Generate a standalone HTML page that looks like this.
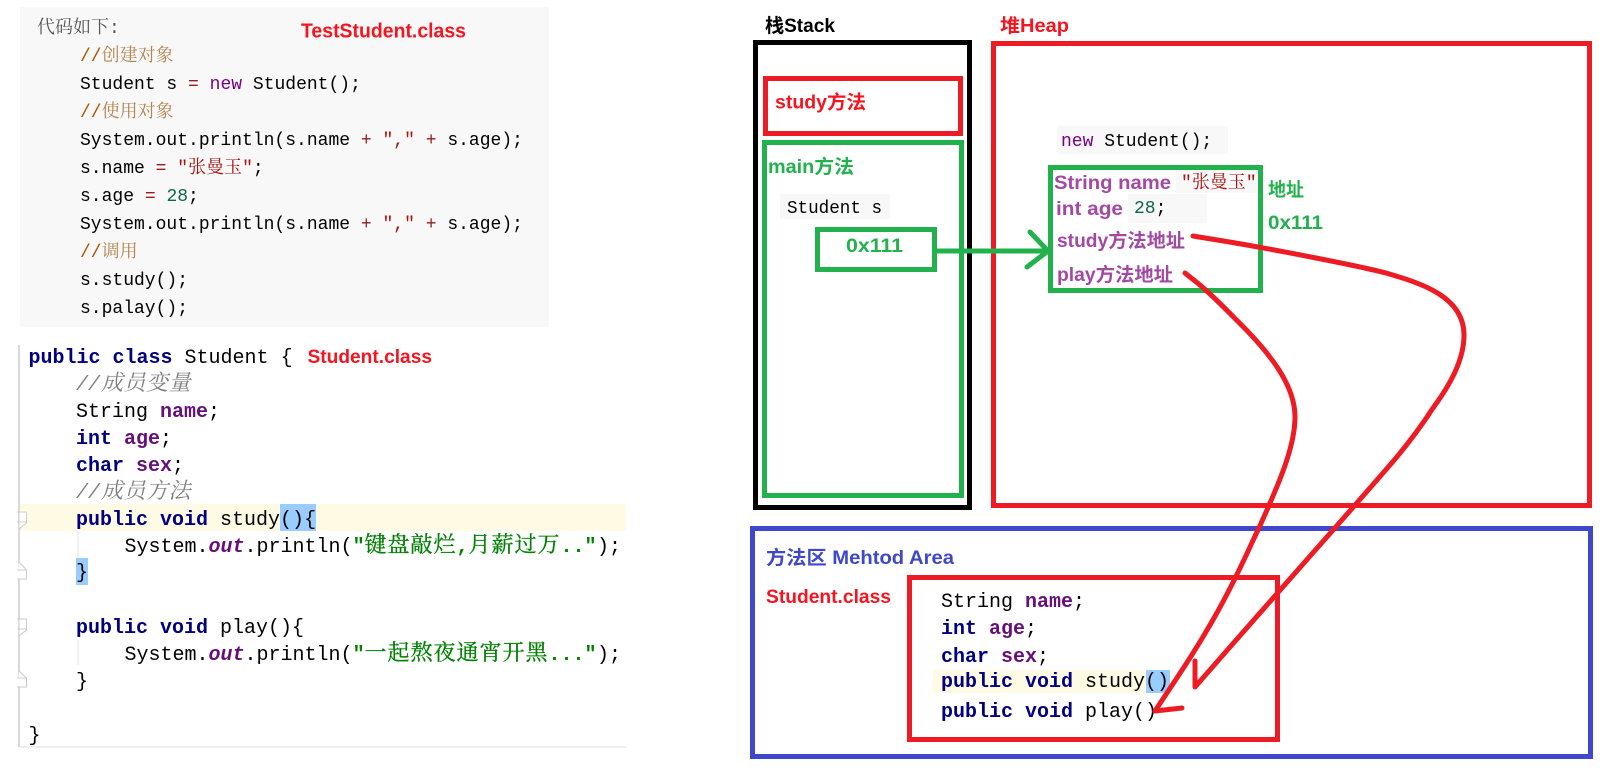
<!DOCTYPE html>
<html><head><meta charset="utf-8"><style>
html,body{margin:0;padding:0;background:#fff;width:1608px;height:774px;overflow:hidden}
svg{display:block}
text{white-space:pre}
.m{font-family:"Liberation Mono","Noto Sans CJK SC",monospace;font-size:18px;fill:#000}
.j{font-family:"Liberation Mono","Noto Sans CJK SC",monospace;font-size:20px;fill:#000}
.b{font-family:"Liberation Sans","Noto Sans CJK SC",sans-serif;font-size:19px;font-weight:bold}
.s{font-family:"Noto Serif CJK SC",serif}
.kw{fill:#000080;font-weight:bold}
.fd{fill:#660E7A;font-weight:bold}
.cm{fill:#808080;font-style:italic}
.st{fill:#008000;font-weight:bold}
.sg{font-family:"Noto Serif CJK SC",serif;font-size:22px;letter-spacing:1px;font-weight:normal;stroke:#008000;stroke-width:.3px}
.t{fill:#b5844f}
.op{fill:#981a1a}
.sr{fill:#a11}
.nw{fill:#708}
.nu{fill:#164}
.r{fill:#F5141F}.g{fill:#22B14C}.p{fill:#A349A4}.u{fill:#3F48CC}
</style></head><body>
<svg width="1608" height="774" viewBox="0 0 1608 774" xmlns="http://www.w3.org/2000/svg">
<!-- top-left code panel -->
<rect x="20" y="7" width="529" height="320" fill="#f8f8f8"/>
<text class="m" x="37" y="33" style="fill:#555"><tspan class="s" font-size="18">代码如下</tspan>:</text>
<text class="b r" x="301" y="37.5" style="font-size:20px" textLength="165" lengthAdjust="spacingAndGlyphs">TestStudent.class</text>
<text class="m" x="80" y="61" style="fill:#a50">//<tspan class="s t">创建对象</tspan></text>
<text class="m" x="80" y="89">Student s <tspan class="op">=</tspan> <tspan class="nw">new</tspan> Student();</text>
<text class="m" x="80" y="117" style="fill:#a50">//<tspan class="s t">使用对象</tspan></text>
<text class="m" x="80" y="145">System.out.println(s.name <tspan class="op">+</tspan> <tspan class="sr">","</tspan> <tspan class="op">+</tspan> s.age);</text>
<text class="m" x="80" y="173">s.name <tspan class="op">=</tspan> <tspan class="sr">"<tspan class="s">张曼玉</tspan>"</tspan>;</text>
<text class="m" x="80" y="201">s.age <tspan class="op">=</tspan> <tspan class="nu">28</tspan>;</text>
<text class="m" x="80" y="229">System.out.println(s.name <tspan class="op">+</tspan> <tspan class="sr">","</tspan> <tspan class="op">+</tspan> s.age);</text>
<text class="m" x="80" y="257" style="fill:#a50">//<tspan class="s t">调用</tspan></text>
<text class="m" x="80" y="285">s.study();</text>
<text class="m" x="80" y="313">s.palay();</text>

<!-- bottom-left code panel -->
<rect x="20" y="504" width="606" height="27" fill="#FFFAE3"/>
<rect x="280" y="504" width="36" height="27" fill="#99CCFF"/>
<rect x="76" y="558" width="12" height="27" fill="#99CCFF"/>
<path d="M19,345V747" fill="none" stroke="#ccc" stroke-width="1.5"/>
<path d="M19,747H626" fill="none" stroke="#ddd" stroke-width="1"/>
<path d="M78,531V558M78,640V665" fill="none" stroke="#e0e0e0" stroke-width="1"/>
<path d="M17,512H26.5V523L19,529V512M17,522H26.5M19,562L26.5,570V579H17M17,570H26.5M17,619H26.5V630L19,636V619M17,629H26.5M19,671L26.5,678V687H17M17,678H26.5" fill="#fff" stroke="#ccc" stroke-width="1"/>
<text class="j" x="28.5" y="363"><tspan class="kw">public</tspan> <tspan class="kw">class</tspan> Student {</text>
<text class="b r" x="307.5" y="363" textLength="124.5" lengthAdjust="spacingAndGlyphs">Student.class</text>
<text class="j cm" x="76" y="390" style="fill:#808080">//<tspan class="s" font-size="22" letter-spacing="0.5" dx="1">成员变量</tspan></text>
<text class="j" x="76" y="417">String <tspan class="fd">name</tspan>;</text>
<text class="j" x="76" y="444"><tspan class="kw">int</tspan> <tspan class="fd">age</tspan>;</text>
<text class="j" x="76" y="471"><tspan class="kw">char</tspan> <tspan class="fd">sex</tspan>;</text>
<text class="j cm" x="76" y="498" style="fill:#808080">//<tspan class="s" font-size="22" letter-spacing="0.5" dx="1">成员方法</tspan></text>
<text class="j" x="76" y="525"><tspan class="kw">public</tspan> <tspan class="kw">void</tspan> study(){</text>
<text class="j" x="124.5" y="552">System.<tspan class="fd" font-style="italic">out</tspan>.println(<tspan class="st">"</tspan></text>
<text class="j st" x="364.5" y="552" style="fill:#008000"><tspan class="sg">键盘敲烂</tspan>,<tspan class="sg">月薪过万</tspan>.."</text>
<text class="j" x="597" y="552">);</text>
<text class="j" x="76" y="578">}</text>
<text class="j" x="76" y="633"><tspan class="kw">public</tspan> <tspan class="kw">void</tspan> play(){</text>
<text class="j" x="124.5" y="660">System.<tspan class="fd" font-style="italic">out</tspan>.println(<tspan class="st">"</tspan></text>
<text class="j st" x="364.5" y="660" style="fill:#008000"><tspan class="sg">一起熬夜通宵开黑</tspan>..."</text>
<text class="j" x="597" y="660">);</text>
<text class="j" x="76" y="687">}</text>
<text class="j" x="28.5" y="741">}</text>

<!-- boxes -->
<g fill="none" stroke-width="5">
<rect x="755.5" y="42.5" width="214" height="465" stroke="#000"/>
<rect x="765.5" y="78.5" width="195" height="55" stroke="#ED1C24"/>
<rect x="764.5" y="142.5" width="197" height="353" stroke="#22B14C"/>
<rect x="817.5" y="229.5" width="117" height="40" stroke="#22B14C"/>
<rect x="993.5" y="43.5" width="596" height="462" stroke="#ED1C24"/>
<rect x="1050.5" y="167.5" width="210" height="123" stroke="#22B14C"/>
<rect x="752.5" y="528.5" width="838" height="228" stroke="#3F48CC"/>
<rect x="909.5" y="577.5" width="368" height="162" stroke="#ED1C24"/>
</g>

<!-- labels right -->
<text class="b" x="765" y="32" fill="#000" textLength="70" lengthAdjust="spacingAndGlyphs">栈Stack</text>
<text class="b r" x="1000" y="32" textLength="69" lengthAdjust="spacingAndGlyphs">堆Heap</text>
<text class="b r" x="775" y="108.5" textLength="91" lengthAdjust="spacingAndGlyphs">study方法</text>
<text class="b g" x="768" y="173" textLength="86" lengthAdjust="spacingAndGlyphs">main方法</text>
<rect x="780" y="194" width="110" height="25" fill="#f8f8f8"/>
<text class="m" x="787" y="213" textLength="95" lengthAdjust="spacingAndGlyphs">Student s</text>
<text class="b g" x="846" y="252" textLength="57" lengthAdjust="spacingAndGlyphs">0x111</text>

<rect x="1057" y="126" width="171" height="28" fill="#f8f8f8"/>
<text class="m" x="1061" y="146"><tspan class="nw">new</tspan> Student();</text>
<rect x="1176" y="170" width="82" height="23" fill="#f8f8f8"/>
<rect x="1128" y="194" width="79" height="29" fill="#f8f8f8"/>
<text class="b p" x="1054" y="189" textLength="117" lengthAdjust="spacingAndGlyphs">String name</text>
<text class="m" x="1181" y="188" style="fill:#a11">"<tspan class="s">张曼玉</tspan>"</text>
<text class="b p" x="1056" y="215" textLength="67" lengthAdjust="spacingAndGlyphs">int age</text>
<text class="m" x="1134" y="213"><tspan class="nu">28</tspan>;</text>
<text class="b p" x="1057" y="247" textLength="128" lengthAdjust="spacingAndGlyphs">study方法地址</text>
<text class="b p" x="1057" y="281" textLength="116" lengthAdjust="spacingAndGlyphs">play方法地址</text>
<text class="b g" x="1268" y="196" textLength="36" lengthAdjust="spacingAndGlyphs">地址</text>
<text class="b g" x="1268" y="229" textLength="55" lengthAdjust="spacingAndGlyphs">0x111</text>

<text class="b u" x="766" y="564" textLength="188" lengthAdjust="spacingAndGlyphs">方法区 Mehtod Area</text>
<text class="b r" x="766" y="603" textLength="125" lengthAdjust="spacingAndGlyphs">Student.class</text>

<rect x="933" y="670" width="213" height="23" fill="#FFFAE3"/>
<rect x="1146" y="670" width="24" height="23" fill="#99CCFF"/>
<text class="j" x="941" y="607">String <tspan class="fd">name</tspan>;</text>
<text class="j" x="941" y="634"><tspan class="kw">int</tspan> <tspan class="fd">age</tspan>;</text>
<text class="j" x="941" y="662"><tspan class="kw">char</tspan> <tspan class="fd">sex</tspan>;</text>
<text class="j" x="941" y="687"><tspan class="kw">public</tspan> <tspan class="kw">void</tspan> study()</text>
<text class="j" x="941" y="717"><tspan class="kw">public</tspan> <tspan class="kw">void</tspan> play()</text>

<!-- green arrow -->
<path d="M937,251H1046M1030,232L1048,251L1027,267" fill="none" stroke="#22B14C" stroke-width="5" stroke-linecap="round" stroke-linejoin="round"/>

<!-- red hand-drawn arrows -->
<g fill="none" stroke="#ED1C24" stroke-width="5" stroke-linecap="round" stroke-linejoin="round">
<path d="M1193,236 L1226.5,241.5 Q1260,247 1313.5,257.5 Q1367,268 1386,273 C1420,283 1464,296 1464,335 C1464,360 1450,385 1433,408 Q1415,436 1390,465 Q1357,503 1311,555 Q1265,607 1230,647 L1195,687 L1195,661"/>
<path d="M1185,273 L1197.5,283 Q1210,293 1236.5,320 C1270,353 1295,385 1295,417 C1295,445 1280,480 1270,503 Q1262,522 1252.5,541.5 Q1235,580 1218.5,610 Q1202,640 1178.5,675.5 L1155,711 L1182,708"/>
</g>
</svg>
</body></html>
